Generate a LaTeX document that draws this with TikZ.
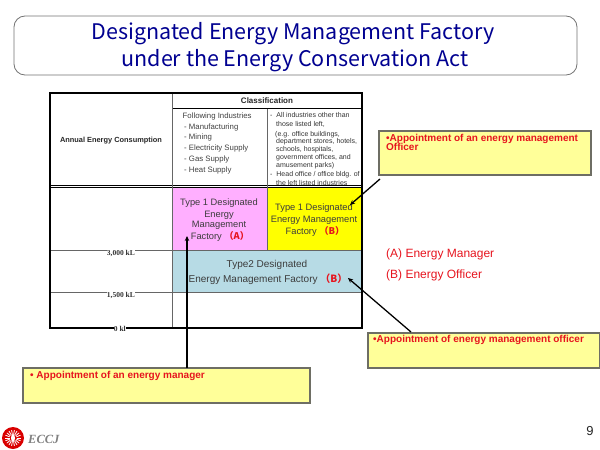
\documentclass[tikz,border=0pt]{standalone}
\usepackage{fontspec}
\setmainfont{Liberation Sans}
\newfontfamily\serifface{Liberation Serif}
\newfontfamily\gothicface{Noto Sans CJK JP}
\usetikzlibrary{arrows.meta}
\definecolor{titleblue}{RGB}{0,0,145}
\definecolor{typepink}{RGB}{255,175,255}
\definecolor{typeyellow}{RGB}{255,255,0}
\definecolor{typeblue}{RGB}{183,219,229}
\definecolor{notefill}{RGB}{255,255,153}
\definecolor{noteedge}{RGB}{110,110,100}
\definecolor{notered}{RGB}{230,20,30}
\definecolor{typetext}{RGB}{60,60,60}
\newcommand{\FontPx}[1]{\fontsize{#1}{#1}\selectfont}
\newcommand{\TypeMark}[1]{{\color{notered}\gothicface\bfseries（#1）}}
\begin{document}
\begin{tikzpicture}[
    x=1pt,y=-1pt,
    line cap=butt,
    titlebox/.style={draw=black!55,line width=0.8pt,rounded corners=11pt,fill=white,outer sep=0pt},
    titletext/.style={text=titleblue,align=center,font=\gothicface\FontPx{21.5},inner sep=0pt},
    tableframe/.style={draw=black,line width=1.6pt},
    tableline/.style={draw=black!60,line width=0.8pt},
    tablerule/.style={draw=black,line width=0.9pt},
    headtext/.style={font=\FontPx{8}\bfseries,text=black!85,inner sep=0pt},
    listtext/.style={font=\FontPx{7.8},text=black!75,inner sep=0pt,anchor=west},
    smalltext/.style={font=\FontPx{7},text=black!80,inner sep=0pt,anchor=west},
    scaletext/.style={font=\serifface\FontPx{7.5}\bfseries,text=black!80,inner sep=0pt,fill=white,anchor=east},
    typetxt/.style={font=\FontPx{9.3},text=typetext,align=center,inner sep=0pt},
    notebox/.style={draw=noteedge,line width=1.7pt,fill=notefill,inner sep=0pt,outer sep=0pt,anchor=north west},
    notetext/.style={font=\FontPx{10}\bfseries,text=notered,inner sep=0pt,anchor=north west,align=left},
    legendtext/.style={font=\FontPx{12},text=notered,inner sep=0pt,anchor=west},
    pointer/.style={draw=black,line width=1.3pt,-{Stealth[length=5pt,width=4.5pt]}},
]
\useasboundingbox (0,0) rectangle (600,450);

\node[titlebox,minimum width=563pt,minimum height=59pt,anchor=north west] (titleframe) at (14,16) {};
\node[titletext] (titleone) at (293,34) {Designated Energy Management Factory};
\node[titletext] (titletwo) at (295,61) {under the Energy Conservation Act};

\fill[typepink] (172,187) rectangle (267,250);
\fill[typeyellow] (267,187) rectangle (362,250);
\fill[typeblue] (172,250) rectangle (362,292);

\draw[tablerule] (172,108.5) -- (362,108.5);
\draw[tablerule] (50,185) -- (362,185);
\draw[tablerule] (50,187.5) -- (362,187.5);
\draw[tableline] (172,93) -- (172,328);
\draw[tableline] (267,108.5) -- (267,250);
\draw[tableline] (50,250) -- (362,250);
\draw[tableline] (50,292) -- (362,292);
\draw[tableframe] (50,93) rectangle (362,328);

\node[headtext] (classhead) at (267,101) {Classification};
\node[headtext,font=\FontPx{7.4}\bfseries] (annualhead) at (111,141) {Annual Energy Consumption};

\node[listtext] (listzero) at (182.5,116) {Following Industries};
\node[listtext] (listone) at (184,127) {- Manufacturing};
\node[listtext] (listtwo) at (184,137.5) {- Mining};
\node[listtext] (listthree) at (184,148.5) {- Electricity Supply};
\node[listtext] (listfour) at (184,159) {- Gas Supply};
\node[listtext] (listfive) at (184,170) {- Heat Supply};

\node[smalltext] (restone) at (270,115) {-\ \ All industries other than};
\node[smalltext] (resttwo) at (276,124) {those listed left,};
\node[smalltext] (restthree) at (275,134.5) {(e.g. office buildings,};
\node[smalltext] (restfour) at (276,142) {department stores, hotels,};
\node[smalltext] (restfive) at (276,150) {schools, hospitals,};
\node[smalltext] (restsix) at (276,158) {government offices, and};
\node[smalltext] (restseven) at (276,166) {amusement parks)};
\node[smalltext] (resteight) at (270,175) {-\ \ Head office / office bldg. of};
\node[smalltext] (restnine) at (276,183) {the left listed industries};

\node[scaletext] (scaleA) at (135,253.5) {3,000 kL};
\node[scaletext] (scaleB) at (135,295) {1,500 kL};
\node[scaletext] (scaleC) at (126,329) {0 kl};

\node[typetxt] (pinkone) at (219,203) {Type 1 Designated};
\node[typetxt] (pinktwo) at (219,215) {Energy};
\node[typetxt] (pinkthree) at (219,225.5) {Management};
\node[typetxt] (pinkfour) at (220,236.5) {Factory \TypeMark{A}};
\node[typetxt] (yellowone) at (314,208.5) {Type 1 Designated};
\node[typetxt] (yellowtwo) at (314,220) {Energy Management};
\node[typetxt] (yellowthree) at (315,231) {Factory \TypeMark{B}};
\node[typetxt,font=\FontPx{10}] (blueone) at (267,264.5) {Type2 Designated};
\node[typetxt,font=\FontPx{10}] (bluetwo) at (268,279) {Energy Management Factory \TypeMark{B}};

\node[legendtext] (legendA) at (386,254) {(A) Energy Manager};
\node[legendtext] (legendB) at (386,275.5) {(B) Energy Officer};

\node[notebox,minimum width=212pt,minimum height=44pt] (noteofficer) at (379,131) {};
\node[notetext] (noteofficertext) at (386,134.5) {•Appointment of an energy management\\[-1pt]Officer};
\node[notebox,minimum width=232pt,minimum height=35pt] (notefactory) at (368,333) {};
\node[notetext] (notefactorytext) at (373,335) {•Appointment of energy management officer};
\node[notebox,minimum width=287pt,minimum height=35pt] (notemanager) at (23,368) {};
\node[notetext] (notemanagertext) at (30,371.5) {• Appointment of an energy manager};

\coordinate (tipA) at (187,236);
\coordinate (tipB) at (350,205);
\coordinate (tipC) at (348,278);
\coordinate (tailB) at (380,179);
\coordinate (tailC) at (411,332);
\draw[pointer] (notemanager.north west -| tipA) -- (tipA);
\draw[pointer] (tailB) -- (tipB);
\draw[pointer] (tailC) -- (tipC);

\fill[red!85!black] (13,438) circle (11);
\foreach \a in {0,20,...,340} {
    \draw[white,line width=0.8pt] (13,438) ++(\a:3.5) -- ++(\a:4.5);
}
\fill[white] (13,438) ellipse (2 and 4);
\node[font=\serifface\FontPx{12.5}\bfseries\itshape,text=black!50,inner sep=0pt,anchor=west] (logotext) at (28,439) {ECCJ};
\node[font=\FontPx{13},text=black!85,inner sep=0pt] (pagenum) at (590,431) {9};
\end{tikzpicture}
\end{document}
